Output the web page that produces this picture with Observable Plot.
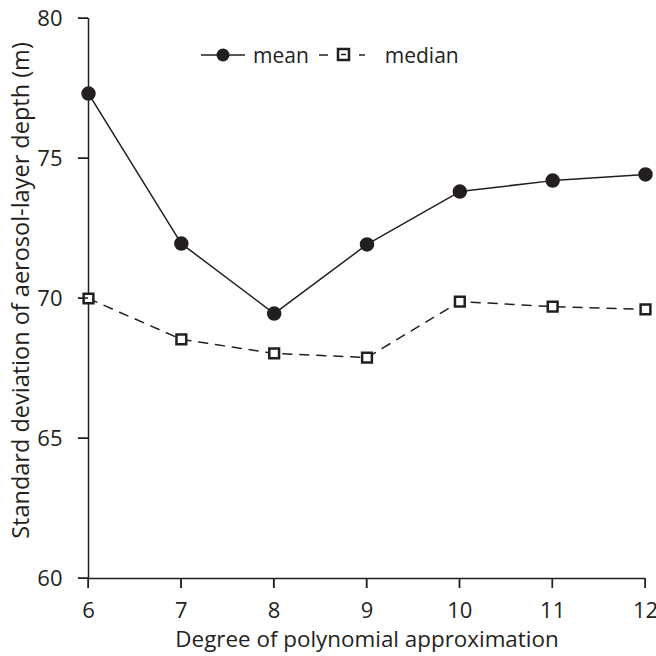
<!DOCTYPE html>
<html><head><meta charset="utf-8">
<script src="https://cdn.jsdelivr.net/npm/d3@7"></script>
<script src="https://cdn.jsdelivr.net/npm/@observablehq/plot@0.6"></script>
<style>
body{margin:0;background:#fff;font-family:"Open Sans",sans-serif;}
#wrap{position:relative;width:656px;height:656px;}
#legend{position:absolute;left:200px;top:43px;font-size:21px;color:#231f20;display:flex;align-items:center;line-height:24px;}
svg.main text{fill:#231f20;}
</style></head><body>
<div id="wrap"></div>
<script>
const degrees = [6, 7, 8, 9, 10, 11, 12];
const meanValues = [77.32, 71.96, 69.46, 71.93, 73.82, 74.21, 74.43];
const medianValues = [70.0, 68.54, 68.04, 67.89, 69.89, 69.71, 69.61];
const yTicks = [60, 65, 70, 75, 80];
const xTicks = [6, 7, 8, 9, 10, 11, 12];

const meanData = degrees.map((d, i) => ({x: d, y: meanValues[i]}));
const medianData = degrees.map((d, i) => ({x: d, y: medianValues[i]}));
const ink = "#231f20";

const chart = Plot.plot({
  className: "main",
  width: 656, height: 656,
  marginLeft: 88, marginRight: 11, marginTop: 18, marginBottom: 78,
  style: {fontFamily: "'Open Sans', sans-serif", fontSize: "22px", color: ink, background: "#fff", overflow: "visible"},
  x: {domain: [6, 12], ticks: xTicks, tickFormat: "d", tickSize: 10, tickPadding: 14,
      label: "Degree of polynomial approximation", labelAnchor: "center", labelArrow: "none", labelOffset: 68},
  y: {domain: [60, 80], ticks: yTicks, tickFormat: "d", tickSize: 10, tickPadding: 16,
      label: "Standard deviation of aerosol-layer depth (m)", labelAnchor: "center", labelArrow: "none", labelOffset: 76},
  marks: [
    Plot.ruleX([6], {stroke: ink, strokeWidth: 1.5}),
    Plot.ruleY([60], {stroke: ink, strokeWidth: 1.5}),
    Plot.line(medianData, {x: "x", y: "y", stroke: ink, strokeWidth: 1.5, strokeDasharray: "9,8"}),
    Plot.line(meanData, {x: "x", y: "y", stroke: ink, strokeWidth: 1.5}),
    Plot.dot(medianData, {x: "x", y: "y", symbol: "square", r: 5.5, fill: "white", stroke: ink, strokeWidth: 2.5}),
    Plot.dot(meanData, {x: "x", y: "y", r: 6.5, fill: ink, stroke: ink})
  ]
});

// style axis texts
const svg = d3.select(chart);
svg.selectAll('[aria-label="x-axis tick label"] text, [aria-label="y-axis tick label"] text').style("font-size", "22px");
svg.selectAll('[aria-label="x-axis label"] text').style("font-size", "22.4px");
svg.selectAll('[aria-label="y-axis label"] text').style("font-size", "23.5px").attr("dx", "8");

// explicit tick marks from the plot's own scales
const sx = chart.scale("x"), sy = chart.scale("y");
const yBase = sy.apply(60), xBase = sx.apply(6);
const g = svg.append("g").attr("stroke", ink).attr("stroke-width", 1.5);
xTicks.forEach(t => g.append("line").attr("x1", sx.apply(t)).attr("x2", sx.apply(t)).attr("y1", yBase).attr("y2", yBase + 10));
yTicks.forEach(t => g.append("line").attr("y1", sy.apply(t)).attr("y2", sy.apply(t)).attr("x1", xBase - 10).attr("x2", xBase));

const wrap = document.getElementById("wrap");
wrap.appendChild(chart);

const legend = document.createElement("div");
legend.id = "legend";
legend.innerHTML = `
<svg width="46" height="20"><line x1="1" y1="10" x2="45" y2="10" stroke="${ink}" stroke-width="1.5"/><circle cx="23" cy="10" r="6.5" fill="${ink}"/></svg>
<span style="margin-left:7px">mean</span>
<svg width="52" height="20" style="margin-left:8px"><line x1="2" y1="10" x2="11" y2="10" stroke="${ink}" stroke-width="1.5"/><line x1="42" y1="10" x2="48" y2="10" stroke="${ink}" stroke-width="1.5"/><rect x="21" y="4" width="11" height="11" fill="white" stroke="${ink}" stroke-width="2.5"/><line x1="24" y1="9.5" x2="29" y2="9.5" stroke="${ink}" stroke-width="1.5"/></svg>
<span style="margin-left:16px">median</span>`;
wrap.appendChild(legend);
</script>
</body></html>
